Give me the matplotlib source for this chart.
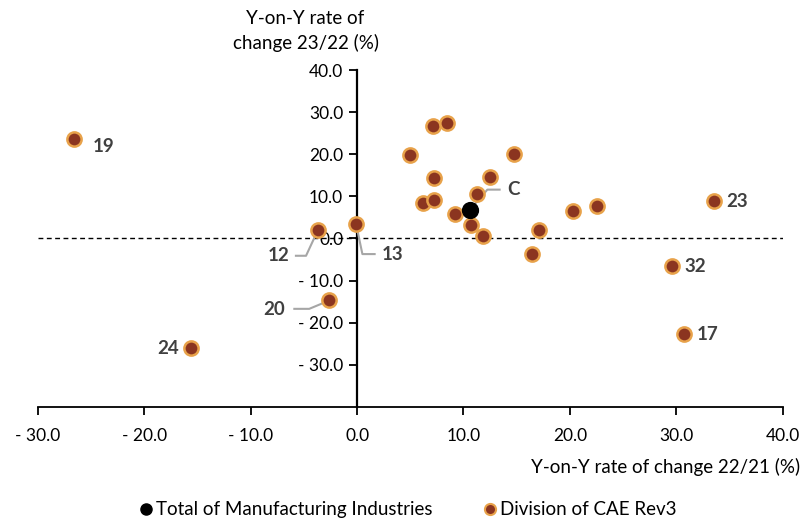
import matplotlib
matplotlib.use("Agg")
import matplotlib.pyplot as plt
from matplotlib.ticker import FuncFormatter
from matplotlib.lines import Line2D

plt.rcParams['font.family'] = ['Lato', 'DejaVu Sans']

# Year-on-year rate of change, by division of CAE Rev3
div_x = [-26.6, -15.6, -2.6, -3.7, -0.1, 7.1, 8.5, 5.0, 14.8, 7.2, 12.5, 11.3,
         6.2, 7.2, 9.2, 10.7, 11.8, 17.1, 16.4, 20.3, 22.6, 33.6, 29.6, 30.7]
div_y = [23.6, -26.1, -14.7, 1.9, 3.5, 26.6, 27.4, 19.8, 20.1, 14.3, 14.5, 10.5,
         8.5, 9.1, 5.8, 3.1, 0.6, 2.1, -3.7, 6.5, 7.8, 8.8, -6.6, -22.7]
div_labels = ["19", "24", "20", "12", "13", "", "", "", "", "", "", "",
              "", "", "", "", "", "", "", "", "", "23", "32", "17"]

# Total of manufacturing industries
total_x = [10.6]
total_y = [6.8]
total_label = ["C"]

x_ticks = [-30, -20, -10, 0, 10, 20, 30, 40]
y_ticks = [-30, -20, -10, 0, 10, 20, 30, 40]

fig = plt.figure(figsize=(8.02, 5.24), dpi=100)
ax = fig.add_axes([0.0474, 0.2233, 0.9283, 0.6431])
ax.set_xlim(-30, 40)
ax.set_ylim(-40, 40)


def fmt(v, pos=None):
    return f"- {abs(v):.1f}" if v < 0 else f"{v:.1f}"


ax.set_xticks(x_ticks)
ax.set_yticks(y_ticks)
ax.xaxis.set_major_formatter(FuncFormatter(fmt))
ax.yaxis.set_major_formatter(FuncFormatter(fmt))

for s in ['top', 'right']:
    ax.spines[s].set_visible(False)
ax.spines['left'].set_position(('data', 0))
ax.spines['left'].set_linewidth(1.6)
ax.spines['bottom'].set_linewidth(1.3)
ax.tick_params(axis='both', direction='out', length=6, width=1.3,
               labelsize=12.5, colors='black')
ax.tick_params(axis='x', pad=9)
ax.tick_params(axis='y', pad=4)

# zero reference line
ax.axhline(0, color='black', linestyle=(0, (3.5, 2.5)), linewidth=1.0, zorder=2)

ax.scatter(div_x, div_y, s=105, color='#8B3520', edgecolors='#E8A24A',
           linewidths=1.8, zorder=4)
ax.scatter(total_x, total_y, s=130, color='black', zorder=5)

lab_kw = dict(fontsize=13.5, fontweight='bold', color='#404040', zorder=6)
lead_kw = dict(color='#A6A6A6', linewidth=1.5, zorder=3)

# label offset (dx, dy), alignment, leader-line vertices relative to the point
positions = {
    "19": (1.7, -1.7, 'left', None),
    "24": (-1.1, -0.1, 'right', None),
    "23": (1.15, 0.1, 'left', None),
    "32": (1.15, -0.1, 'left', None),
    "17": (1.2, -0.1, 'left', None),
    "13": (2.4, -7.2, 'left', [(0.6, -7.2), (1.75, -7.2)]),
    "12": (-2.7, -6.0, 'right', [(-1.1, -6.0), (-2.05, -6.0)]),
    "20": (-4.2, -2.1, 'right', [(-1.9, -2.0), (-3.3, -2.0)]),
}

for x, y, lab in zip(div_x, div_y, div_labels):
    if not lab:
        continue
    dx, dy, ha, leader = positions[lab]
    if leader:
        xs = [x] + [x + p[0] for p in leader]
        ys = [y] + [y + p[1] for p in leader]
        ax.plot(xs, ys, **lead_kw)
    ax.text(x + dx, y + dy, lab, ha=ha, va='center', **lab_kw)

for x, y, lab in zip(total_x, total_y, total_label):
    ax.plot([x, x + 1.65, x + 2.8], [y, y + 4.8, y + 4.8], **lead_kw)
    ax.text(x + 3.5, y + 4.8, lab, ha='left', va='center', **lab_kw)

fig.text(0.998, 0.108, "Y-on-Y rate of change 22/21 (%)", ha='right',
         va='center', fontsize=13.5)
fig.text(0.381, 0.941, "Y-on-Y rate of\nchange 23/22 (%)", ha='center',
         va='center', fontsize=13.5, linespacing=1.45)

handles = [
    Line2D([], [], marker='o', linestyle='none', markerfacecolor='black',
           markeredgecolor='black', markersize=8),
    Line2D([], [], marker='o', linestyle='none', markerfacecolor='#8B3520',
           markeredgecolor='#E8A24A', markeredgewidth=1.5, markersize=8),
]
fig.legend(handles, ["Total of Manufacturing Industries", "Division of CAE Rev3"],
           loc='center', bbox_to_anchor=(0.507, 0.027), ncol=2, frameon=False,
           fontsize=13.5, handletextpad=0.0, columnspacing=2.6, handlelength=1.0)

fig.savefig("out.png", dpi=100)
